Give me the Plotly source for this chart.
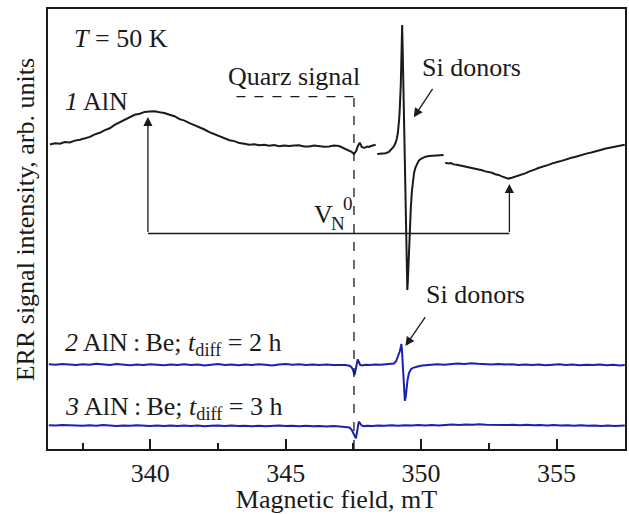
import plotly.graph_objects as go

# ---------------- data ----------------
# Curve 1: AlN (black), three recorded segments (gaps in between)
field_1a = [336.29, 336.47, 336.66, 336.84, 337.03, 337.21, 337.40, 337.58, 337.77, 337.95,
            338.13, 338.32, 338.50, 338.68, 338.87, 339.05, 339.24, 339.42, 339.61, 339.79,
            339.97, 340.16, 340.34, 340.52, 340.71, 340.89, 341.08, 341.26, 341.45, 341.63,
            341.81, 342.00, 342.18, 342.37, 342.55, 342.73, 342.92, 343.10, 343.29, 343.47,
            343.65, 343.84, 344.02, 344.21, 344.39, 344.57, 344.76, 344.94, 345.13, 345.31,
            345.49, 345.68, 345.86, 346.05, 346.23, 346.42, 346.60, 346.78, 346.97, 347.06,
            347.15, 347.25, 347.34, 347.43, 347.52, 347.57, 347.61, 347.65, 347.69, 347.73,
            347.77, 347.80, 347.86, 347.92, 348.00, 348.07, 348.15, 348.22, 348.32]
signal_1a = [304.5, 305.8, 305.2, 306.9, 306.6, 308.4, 309.2, 310.9, 312.1, 314.6,
             316.2, 318.9, 320.7, 324.1, 326.5, 329.6, 331.6, 334.2, 335.3, 337.1,
             337.4, 337.8, 336.8, 336.0, 334.3, 332.8, 329.9, 328.4, 325.8, 323.9,
             321.3, 319.5, 316.8, 314.9, 312.7, 311.2, 308.8, 307.9, 305.9, 305.2,
             304.2, 304.8, 303.7, 304.3, 303.2, 303.9, 302.8, 303.6, 302.9, 303.4,
             303.8, 302.6, 302.4, 303.5, 303.1, 302.2, 302.6, 303.4, 302.9, 301.8,
             301.3, 300.2, 299.0, 297.2, 295.0, 296.5, 298.5, 302.0, 305.0, 306.2,
             304.5, 302.2, 301.5, 301.2, 302.4, 302.0, 303.0, 303.6, 304.2]

field_1b = [348.38, 348.48, 348.58, 348.69, 348.81, 348.90, 348.98, 349.05, 349.10, 349.14,
            349.17, 349.19, 349.21, 349.23, 349.25, 349.27, 349.29, 349.30, 349.33, 349.36,
            349.39, 349.42, 349.45, 349.47, 349.49, 349.51, 349.53, 349.56, 349.59, 349.62,
            349.66, 349.70, 349.74, 349.79, 349.85, 349.91, 349.98, 350.07, 350.16, 350.30,
            350.46, 350.64, 350.83]
signal_1b = [295.0, 295.4, 295.3, 295.8, 297.2, 299.5, 302.0, 305.7, 310.0, 316.0,
             322.0, 330.0, 339.0, 350.0, 365.0, 389.0, 410.0, 424.0, 385.0, 340.0,
             295.0, 245.0, 200.0, 172.0, 159.0, 168.0, 185.0, 205.0, 225.0, 241.0,
             258.0, 268.0, 276.0, 281.5, 285.7, 288.2, 290.0, 291.3, 292.3, 293.0,
             293.5, 293.8, 294.0]

field_1c = [350.89, 351.00, 351.10, 351.20, 351.32, 351.45, 351.56, 351.63, 351.75, 351.88,
            352.00, 352.12, 352.25, 352.37, 352.49, 352.62, 352.74, 352.86, 352.98, 353.10,
            353.22, 353.35, 353.47, 353.59, 353.71, 353.84, 353.96, 354.08, 354.21, 354.33,
            354.45, 354.58, 354.70, 354.82, 354.94, 355.06, 355.19, 355.31, 355.43, 355.55,
            355.68, 355.80, 355.92, 356.05, 356.17, 356.29, 356.41, 356.53, 356.66, 356.78,
            356.90, 357.02, 357.15, 357.27, 357.39, 357.52]
signal_1c = [286.3, 285.6, 285.9, 284.6, 284.2, 283.5, 282.9, 282.3, 281.8, 281.0,
             280.5, 279.6, 278.8, 277.6, 277.0, 276.2, 274.8, 274.1, 272.6, 271.5,
             270.4, 271.2, 272.1, 273.2, 274.5, 275.6, 277.1, 278.0, 279.6, 281.0,
             281.8, 283.3, 284.1, 285.4, 286.0, 287.2, 288.1, 289.3, 290.0, 291.2,
             292.0, 293.1, 294.0, 294.6, 295.9, 296.5, 297.6, 298.1, 299.3, 300.2,
             300.8, 301.9, 302.3, 303.2, 303.6, 304.2]

# Curve 2: AlN:Be, t_diff = 2 h (blue)
field_2 = [336.25, 336.5, 336.75, 337.0, 337.25, 337.5, 337.75, 338.0, 338.25, 338.5,
           338.75, 339.0, 339.25, 339.5, 339.75, 340.0, 340.25, 340.5, 340.75, 341.0,
           341.25, 341.5, 341.75, 342.0, 342.25, 342.5, 342.75, 343.0, 343.25, 343.5,
           343.75, 344.0, 344.25, 344.5, 344.75, 345.0, 345.25, 345.5, 345.75, 346.0,
           346.25, 346.5, 346.75, 347.0, 347.2, 347.35, 347.42, 347.48, 347.54, 347.58,
           347.62, 347.66, 347.70, 347.75, 347.82, 347.95, 348.1, 348.3, 348.5, 348.7,
           348.9, 349.0, 349.08, 349.15, 349.21, 349.25, 349.27, 349.29, 349.31, 349.33,
           349.35, 349.37, 349.40, 349.43, 349.46, 349.50, 349.55, 349.62, 349.70, 349.80,
           349.91, 350.05, 350.2, 350.4, 350.6, 350.85, 351.1, 351.35, 351.6, 351.85,
           352.1, 352.35, 352.6, 352.85, 353.1, 353.35, 353.6, 353.85, 354.1, 354.35,
           354.6, 354.85, 355.1, 355.35, 355.6, 355.85, 356.1, 356.35, 356.6, 356.85,
           357.1, 357.35, 357.52]
signal_2 = [84.8, 84.2, 85.1, 84.6, 83.9, 84.7, 84.3, 85.2, 84.5, 84.0,
            84.9, 84.4, 83.7, 84.6, 84.1, 84.8, 84.2, 83.8, 84.6, 84.0,
            84.7, 83.9, 84.4, 83.6, 84.3, 84.9, 84.1, 84.6, 83.8, 84.5,
            84.0, 84.7, 84.2, 83.6, 84.4, 84.9, 84.2, 84.7, 84.0, 84.5,
            83.9, 84.6, 84.1, 84.4, 83.9, 83.2, 82.0, 79.5, 74.0, 79.0,
            86.0, 89.7, 87.0, 84.0, 83.5, 84.3, 84.0, 84.6, 84.2, 84.5,
            84.6, 85.5, 88.0, 92.5, 97.5, 102.0, 105.0, 100.0, 92.0, 82.0,
            71.0, 60.0, 48.3, 52.0, 60.0, 69.0, 76.0, 79.5, 81.2, 82.3,
            82.8, 83.4, 83.9, 84.3, 84.7, 84.2, 85.0, 85.4, 85.1, 85.8,
            85.3, 85.0, 84.6, 85.1, 84.4, 84.8, 84.1, 84.6, 84.0, 84.5,
            83.8, 84.3, 84.7, 84.0, 84.4, 83.7, 84.3, 83.9, 84.6, 83.8,
            84.2, 83.6, 84.0]

# Curve 3: AlN:Be, t_diff = 3 h (blue)
field_3 = [336.25, 336.5, 336.75, 337.0, 337.25, 337.5, 337.75, 338.0, 338.25, 338.5,
           338.75, 339.0, 339.25, 339.5, 339.75, 340.0, 340.25, 340.5, 340.75, 341.0,
           341.25, 341.5, 341.75, 342.0, 342.25, 342.5, 342.75, 343.0, 343.25, 343.5,
           343.75, 344.0, 344.25, 344.5, 344.75, 345.0, 345.25, 345.5, 345.75, 346.0,
           346.25, 346.5, 346.75, 347.0, 347.2, 347.35, 347.43, 347.50, 347.56, 347.59,
           347.62, 347.66, 347.70, 347.74, 347.80, 347.89, 348.0, 348.2, 348.4, 348.65,
           348.9, 349.15, 349.4, 349.65, 349.9, 350.15, 350.4, 350.65, 350.9, 351.15,
           351.4, 351.65, 351.9, 352.15, 352.4, 352.65, 352.9, 353.15, 353.4, 353.65,
           353.9, 354.15, 354.4, 354.65, 354.9, 355.15, 355.4, 355.65, 355.9, 356.15,
           356.4, 356.65, 356.9, 357.15, 357.52]
signal_3 = [23.8, 23.4, 24.0, 23.6, 23.9, 23.2, 23.7, 23.3, 23.9, 23.4,
            23.0, 23.6, 23.2, 23.8, 23.3, 23.0, 23.6, 23.1, 23.5, 22.9,
            23.4, 23.0, 23.5, 22.8, 23.2, 23.6, 23.0, 23.4, 22.9, 23.3,
            22.8, 23.2, 22.7, 23.1, 23.5, 22.9, 23.3, 22.8, 23.2, 22.7,
            23.1, 22.6, 23.0, 22.5, 22.3, 21.5, 19.5, 16.0, 11.5, 10.7,
            15.0, 22.0, 27.3, 26.0, 23.5, 22.8, 23.3, 23.0, 23.5, 23.2,
            23.7, 23.3, 23.8, 23.4, 23.9, 23.5, 24.0, 23.6, 24.1, 24.4,
            24.0, 24.6, 24.2, 24.7, 24.3, 24.0, 24.4, 23.9, 24.3, 23.8,
            24.2, 23.7, 24.1, 23.6, 23.9, 23.4, 23.8, 23.3, 23.7, 23.2,
            23.6, 23.1, 23.5, 23.0, 23.4]

x_ticks = [340, 345, 350, 355]
x_tick_labels = ["340", "345", "350", "355"]

# ---------------- styling ----------------
FONT = "Liberation Serif, Times New Roman, serif"
FS = 26
BLACK = "#1a1a1a"
BLUE = "#1c20b0"

fig = go.Figure()

# curve 1 (with gaps between recorded segments)
x1 = field_1a + [None] + field_1b + [None] + field_1c
y1 = signal_1a + [None] + signal_1b + [None] + signal_1c
fig.add_trace(go.Scatter(x=x1, y=y1, mode="lines", connectgaps=False,
                         line=dict(color=BLACK, width=2), hoverinfo="skip"))
fig.add_trace(go.Scatter(x=field_2, y=signal_2, mode="lines",
                         line=dict(color=BLUE, width=2), hoverinfo="skip"))
fig.add_trace(go.Scatter(x=field_3, y=signal_3, mode="lines",
                         line=dict(color=BLUE, width=2), hoverinfo="skip"))

# quartz marker (dashed) -- annotation geometry
quarz_x = 347.52
quarz_top = 352.3
quarz_left = 343.18
fig.add_shape(type="line", x0=quarz_x, x1=quarz_x, y0=0, y1=quarz_top,
              line=dict(color=BLACK, width=1.3, dash="dash"))
fig.add_shape(type="line", x0=quarz_left, x1=quarz_x, y0=quarz_top, y1=quarz_top,
              line=dict(color=BLACK, width=1.3, dash="dash"))

# V_N^0 bracket
vn_left_x, vn_right_x, vn_y = 339.91, 353.26, 215.5
vn_left_tip, vn_right_tip = 332.0, 265.0
fig.add_shape(type="line", x0=vn_left_x, x1=vn_right_x, y0=vn_y, y1=vn_y,
              line=dict(color=BLACK, width=1.3))

def arrow(x, y, ax, ay):
    fig.add_annotation(x=x, y=y, ax=ax, ay=ay, xref="x", yref="y", axref="x", ayref="y",
                       text="", showarrow=True, arrowhead=2, arrowsize=1.4,
                       arrowwidth=1.3, arrowcolor=BLACK, standoff=0)

arrow(vn_left_x, vn_left_tip, vn_left_x, vn_y)
arrow(vn_right_x, vn_right_tip, vn_right_x, vn_y)
arrow(349.73, 331.7, 350.46, 361.7)
arrow(349.42, 103.0, 350.19, 133.3)

def label(x, y, text, size=FS):
    fig.add_annotation(x=x, y=y, xref="x", yref="y", text=text, showarrow=False,
                       xanchor="left", yanchor="middle",
                       font=dict(family=FONT, size=size, color=BLACK))

label(337.09, 410.7, "<i>T</i> = 50 K")
label(342.80, 373.0, "Quarz signal")
label(336.78, 348.0, "<i>1</i> AlN")
label(349.97, 381.3, "Si donors")
label(350.09, 154.7, "Si donors")
label(336.78, 104.7, "<i>2</i> AlN\u2009:\u2009Be; <i>t</i><sub>diff</sub> = 2 h")
label(336.78, 41.3, "<i>3</i> AlN\u2009:\u2009Be; <i>t</i><sub>diff</sub> = 3 h")
label(345.97, 235.0, "V")
label(346.60, 225.5, "N", size=19)
label(347.04, 245.5, "0", size=19)

# y-axis title
fig.add_annotation(x=-0.0397, y=0.52, xref="paper", yref="paper",
                   text="ERR signal intensity, arb. units", textangle=-90,
                   showarrow=False, xanchor="center", yanchor="middle",
                   font=dict(family=FONT, size=FS, color=BLACK))

fig.update_layout(
    width=629, height=514,
    margin=dict(l=48, r=2, t=9, b=65),
    paper_bgcolor="white", plot_bgcolor="white",
    showlegend=False,
    font=dict(family=FONT, size=FS, color=BLACK),
    xaxis=dict(range=[336.22, 357.53], tickvals=x_ticks, ticktext=x_tick_labels,
               ticks="inside", ticklen=10, tickwidth=1.5, tickcolor=BLACK,
               showline=True, mirror=True, linecolor=BLACK, linewidth=2,
               showgrid=False, zeroline=False,
               tickfont=dict(family=FONT, size=FS, color=BLACK),
               minor=dict(tickvals=[337.5, 342.5, 347.5, 352.5, 357.5], ticks="inside",
                          ticklen=6, tickwidth=1.5, tickcolor=BLACK, showgrid=False),
               title=dict(text="Magnetic field, mT", standoff=6,
                          font=dict(family=FONT, size=FS, color=BLACK))),
    yaxis=dict(range=[0, 440], showticklabels=False, ticks="",
               showline=True, mirror=True, linecolor=BLACK, linewidth=2,
               showgrid=False, zeroline=False),
)

fig.write_html("out.html", config={"displayModeBar": False},
               post_script="document.body.style.margin='0';document.body.style.padding='0';")
